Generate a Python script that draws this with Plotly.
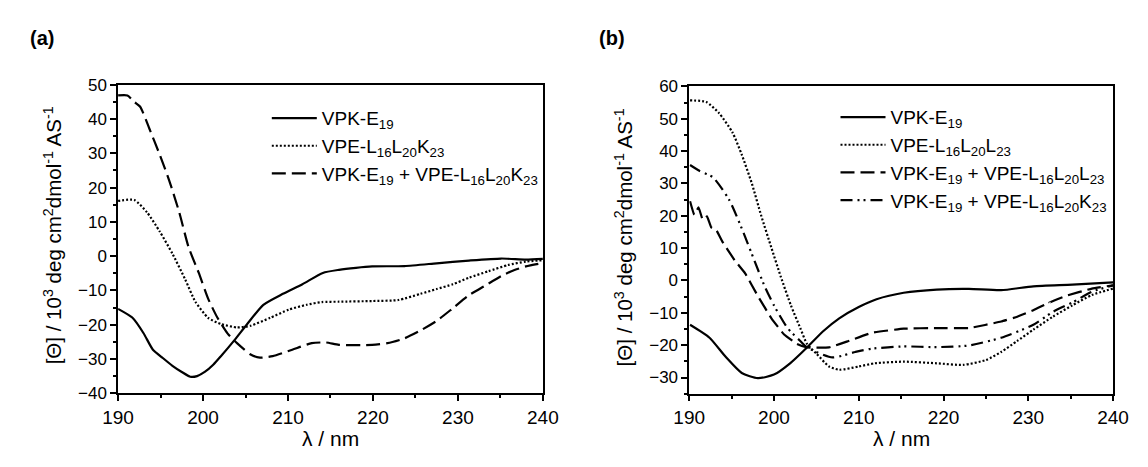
import plotly.graph_objects as go

# ---------------- panel (a) ----------------
a_vpk_wl = [190, 191.7, 193, 194.1, 195.3, 196.4, 197.5, 198.5, 199.3, 200.2, 201.2, 202.1,
            203.7, 205.2, 207.1, 209.4, 211.7, 214.1, 216, 218, 219.9, 223.7, 227.5, 231.3,
            235.1, 238, 240]
a_vpk = [-15.4, -18.0, -22.5, -27.3, -29.8, -32.0, -33.8, -35.2, -35.0, -33.8, -31.7, -29.2,
         -24.5, -19.8, -14.2, -11.0, -8.2, -4.9, -4.0, -3.4, -3.0, -2.9, -2.1, -1.3,
         -0.7, -1.0, -0.8]

a_vpe_wl = [190, 191.9, 193.4, 194.9, 196.4, 197.9, 199.1, 200.6, 202.1, 204.0, 205.6, 207.9,
            210.1, 212.2, 214, 216, 219.9, 223, 225.6, 227.5, 229.4, 231.3, 233.6, 235.9,
            238, 240]
a_vpe = [16.1, 16.4, 12.8, 7.2, 0.7, -6.8, -13.3, -18.0, -19.8, -20.8, -20.3, -18.0,
         -15.6, -14.2, -13.4, -13.3, -13.1, -12.8, -11.0, -9.6, -8.2, -6.3, -4.4, -2.6,
         -1.6, -1.2]

a_mix_wl = [190, 191.1, 191.9, 192.6, 193.7, 194.9, 196.0, 197.2, 198.3, 199.5, 200.6, 201.7,
            202.9, 204.0, 205.6, 206.7, 208.2, 210.5, 212.8, 214.5, 216, 219.9, 221.7, 223.7,
            225.6, 227.5, 229.4, 231.3, 233.2, 235.1, 236.3, 238, 240]
a_mix = [46.9, 46.9, 45.0, 43.6, 37.1, 29.6, 22.2, 12.8, 2.6, -4.9, -12.4, -18.0,
         -22.6, -25.4, -28.7, -29.6, -29.2, -27.3, -25.4, -25.2, -25.9, -25.9, -25.4, -24.0,
         -21.7, -18.9, -15.2, -11.4, -8.6, -5.8, -4.4, -3.0, -2.0]

# ---------------- panel (b) ----------------
b_vpk_wl = [190.1, 192.4, 194.3, 196.2, 198.1, 200, 201.9, 203.9, 205.8, 207.7, 210, 212.1,
            215.3, 219.2, 223, 226.8, 230.6, 235.2, 240]
b_vpk = [-13.7, -17.7, -23.6, -28.6, -30.2, -29.1, -25.6, -20.7, -15.7, -11.7, -8.2, -5.8,
         -3.8, -2.8, -2.6, -3.0, -1.8, -1.3, -0.6]

b_vpe_wl = [190.1, 192, 193.5, 195.1, 196.2, 197.4, 198.5, 199.7, 200.8, 202, 203.1, 203.9,
            205, 206.5, 207.7, 210, 211.9, 215.3, 219.2, 222.3, 225, 226.8, 228.7, 230.6,
            232.9, 235.2, 237.5, 240]
b_vpe = [55.7, 55.2, 51.8, 45.8, 38.9, 29.9, 20.0, 10.1, 1.2, -7.7, -14.7, -19.6,
         -22.6, -26.6, -27.6, -26.6, -25.6, -25.1, -25.6, -26.1, -24.6, -22.1, -18.7, -15.2,
         -11.2, -7.7, -4.5, -2.5]

# noisy start below ~193 nm: the trace jumps between the two edges of its band
b_mixL_wl = [190.1, 190.6, 191.1, 191.6, 192.1, 192.6, 193.1, 193.9, 195.4, 196.6, 198.1,
             199.7, 201.2, 202.7, 203.9, 206.5, 208.8, 211.5, 215.3, 219.2, 223, 226.8,
             228.7, 230.6, 232.5, 234.4, 237.5, 240]
b_mixL = [24.5, 20.3, 22.6, 18.8, 19.8, 16.4, 16.0, 12.1, 6.1, 2.2, -4.8,
          -11.7, -16.7, -19.6, -20.7, -20.7, -18.7, -16.2, -14.9, -14.7, -14.7, -12.7,
          -11.2, -9.2, -6.8, -4.8, -2.5, -1.5]

b_mixK_wl = [190.1, 191.2, 192.8, 194.7, 196.2, 197.7, 198.9, 200.0, 201.6, 203.1, 203.9,
             206.9, 209.6, 211.5, 215.3, 219.2, 223, 226.8, 230.6, 232.9, 235.2, 237.5, 240]
b_mixK = [35.7, 33.9, 31.9, 25.0, 16.1, 6.1, -1.8, -7.7, -14.7, -18.7, -20.7,
          -23.8, -22.1, -21.1, -20.4, -20.6, -20.1, -17.7, -13.7, -9.7, -6.8, -3.5, -1.5]

FONT = "Arial, 'Liberation Sans', sans-serif"
W, H = 1148, 467

names_a = ["VPK-E<sub>19</sub>",
           "VPE-L<sub>16</sub>L<sub>20</sub>K<sub>23</sub>",
           "VPK-E<sub>19</sub> + VPE-L<sub>16</sub>L<sub>20</sub>K<sub>23</sub>"]
names_b = ["VPK-E<sub>19</sub>",
           "VPE-L<sub>16</sub>L<sub>20</sub>L<sub>23</sub>",
           "VPK-E<sub>19</sub> + VPE-L<sub>16</sub>L<sub>20</sub>L<sub>23</sub>",
           "VPK-E<sub>19</sub> + VPE-L<sub>16</sub>L<sub>20</sub>K<sub>23</sub>"]

SOLID = "solid"
DOT = "2px,2px"
DASH = "14px,6px"
DASHDOTDOT = "12px,5px,2px,4px,2px,5px"

fig = go.Figure()


def add(x, y, name, dash, xa, ya, leg, smoothing=0.6):
    fig.add_trace(go.Scatter(
        x=x, y=y, name=name, mode="lines",
        line=dict(color="black", width=2.2, dash=dash, shape="spline", smoothing=smoothing),
        xaxis=xa, yaxis=ya, legend=leg))


add(a_vpk_wl, a_vpk, names_a[0], SOLID, "x", "y", "legend")
add(a_vpe_wl, a_vpe, names_a[1], DOT, "x", "y", "legend")
add(a_mix_wl, a_mix, names_a[2], DASH, "x", "y", "legend")

add(b_vpk_wl, b_vpk, names_b[0], SOLID, "x2", "y2", "legend2")
add(b_vpe_wl, b_vpe, names_b[1], DOT, "x2", "y2", "legend2")
add(b_mixL_wl, b_mixL, names_b[2], DASH, "x2", "y2", "legend2", smoothing=0.3)
add(b_mixK_wl, b_mixK, names_b[3], DASHDOTDOT, "x2", "y2", "legend2")


def px_x(p):
    return p / W


def px_y(p):
    return 1 - p / H


axis_common = dict(
    showline=True, linecolor="black", linewidth=1.5, mirror=True,
    ticks="outside", ticklen=6, tickwidth=1.5, tickcolor="black",
    showgrid=False, zeroline=False,
    minor=dict(ticks="outside", ticklen=3.5, tickwidth=1.5, tickcolor="black", showgrid=False),
)

xa = dict(axis_common, range=[190, 240], dtick=10, tick0=190,
          tickfont=dict(family=FONT, size=19, color="black"))
xa["minor"] = dict(axis_common["minor"], dtick=5)

fig.update_layout(
    width=W, height=H,
    margin=dict(l=0, r=0, t=0, b=0),
    paper_bgcolor="white", plot_bgcolor="white",
    font=dict(family=FONT, color="black"),
    xaxis=dict(xa, domain=[px_x(105), px_x(542)], anchor="y"),
    xaxis2=dict(xa, domain=[px_x(692.5), px_x(1128.5)], anchor="y2"),
    yaxis=dict(axis_common, range=[-40, 50], dtick=10, domain=[px_y(400.5), px_y(79)],
               anchor="x", tickfont=dict(family=FONT, size=17, color="black"),
               minor=dict(axis_common["minor"], dtick=5)),
    yaxis2=dict(axis_common, range=[-35, 60], dtick=10, domain=[px_y(401), px_y(80.7)],
                anchor="x2", tickfont=dict(family=FONT, size=17, color="black"),
                minor=dict(axis_common["minor"], dtick=5)),
    legend=dict(x=px_x(258), y=px_y(94), xanchor="left", yanchor="top",
                bgcolor="rgba(0,0,0,0)", font=dict(family=FONT, size=19, color="black"),
                itemwidth=45, tracegroupgap=0),
    legend2=dict(x=px_x(843), y=px_y(93), xanchor="left", yanchor="top",
                 bgcolor="rgba(0,0,0,0)", font=dict(family=FONT, size=19, color="black"),
                 itemwidth=45, tracegroupgap=0),
    showlegend=True,
)

ytitle = "[Θ] / 10<sup>3</sup> deg cm<sup>2</sup>dmol<sup>-1</sup> AS<sup>-1</sup>"
ann = []
for cx, cy in [(38, 236), (625.5, 238)]:
    ann.append(dict(text=ytitle, x=px_x(cx), y=px_y(cy), xref="paper", yref="paper",
                    textangle=-90, showarrow=False, xanchor="center", yanchor="middle",
                    font=dict(family=FONT, size=20.5, color="black")))
for cx in [323.5, 910.5]:
    ann.append(dict(text="λ / nm", x=px_x(cx), y=px_y(448), xref="paper", yref="paper",
                    showarrow=False, xanchor="center", yanchor="middle",
                    font=dict(family=FONT, size=21, color="black")))
for lbl, cx in [("<b>(a)</b>", 12), ("<b>(b)</b>", 598)]:
    ann.append(dict(text=lbl, x=px_x(cx), y=px_y(30), xref="paper", yref="paper",
                    showarrow=False, xanchor="left", yanchor="middle",
                    font=dict(family=FONT, size=20, color="black")))
fig.update_layout(annotations=ann)

fig.write_html("out.html")
